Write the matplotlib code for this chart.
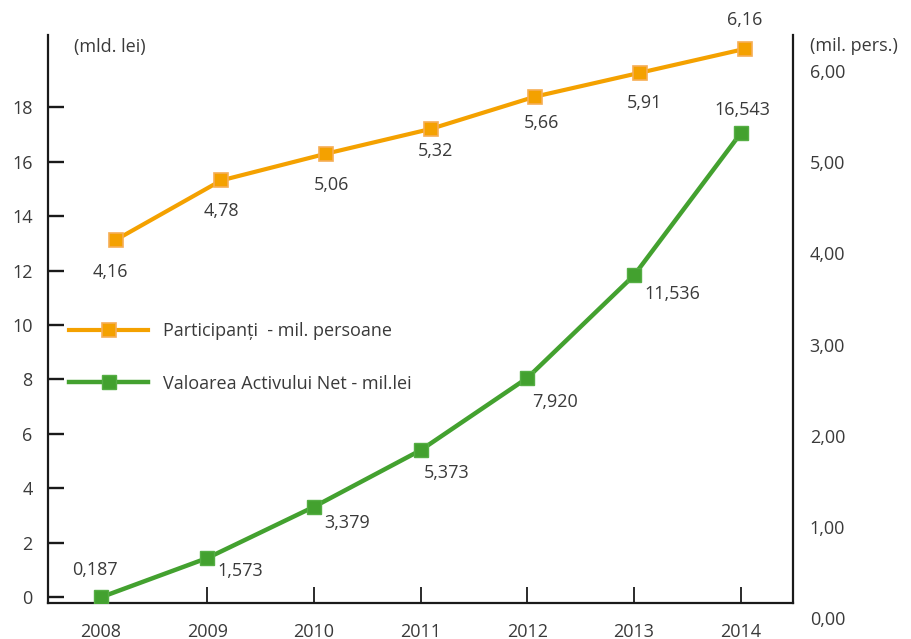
import matplotlib
matplotlib.use("Agg")
import matplotlib.pyplot as plt
from matplotlib.lines import Line2D

plt.rcParams['font.family'] = ['Open Sans', 'DejaVu Sans']

# ---------------- data ----------------
years = ['2008', '2009', '2010', '2011', '2012', '2013', '2014']
van = [0.187, 1.573, 3.379, 5.373, 7.920, 11.536, 16.543]
van_labels = ['0,187', '1,573', '3,379', '5,373', '7,920', '11,536', '16,543']
participants = [4.16, 4.78, 5.06, 5.32, 5.66, 5.91, 6.16]
part_labels = ['4,16', '4,78', '5,06', '5,32', '5,66', '5,91', '6,16']
left_ticks = [0, 2, 4, 6, 8, 10, 12, 14, 16, 18]
right_ticks = [0, 1, 2, 3, 4, 5, 6]
right_tick_labels = ['0,00', '1,00', '2,00', '3,00', '4,00', '5,00', '6,00']
series_names = ['Participanți  - mil. persoane', 'Valoarea Activului Net - mil.lei']

# ---------------- style ----------------
TEXT = '#3a3a3a'
ORANGE = '#F4A100'
ORANGE_EDGE = '#F6AE55'
GREEN = '#43A12F'
GREEN_EDGE = '#55AE44'
FS = 13

# label offsets in pixels (dx right, dy down) relative to each marker
van_off = [(-6, -27), (33, 13), (33, 16), (26, 23), (28, 24), (38, 19), (2, -23)]
part_off = [(-6, 32), (0, 31), (6, 31), (5, 22), (6, 26), (4, 30), (0, -29)]

W, H = 911, 639
fig = plt.figure(figsize=(W / 100, H / 100), dpi=100)


def rect(l, t, r, b):
    return [l / W, 1 - b / H, (r - l) / W, (b - t) / H]


px = 0.72  # points per pixel

# main axes: spines, x ticks, left ticks
ax = fig.add_axes(rect(48, 35, 793, 602.7))
ax.set_xlim(-0.493, 6.489)
ax.set_ylim(-0.206, 20.66)
ax.spines['top'].set_visible(False)
for s in ['left', 'right', 'bottom']:
    ax.spines[s].set_linewidth(1.6)
    ax.spines[s].set_color('#1a1a1a')
ax.yaxis.set_ticks_position('left')
ax.xaxis.set_ticks_position('bottom')
ax.set_yticks(left_ticks, [str(t) for t in left_ticks])
ax.set_xticks(range(len(years)), years)
ax.tick_params(axis='y', direction='in', length=11.5, width=1.7, pad=11,
               labelsize=FS, labelcolor=TEXT, color='#1a1a1a')
ax.tick_params(axis='x', direction='in', length=11.5, width=1.3, pad=14.5,
               labelsize=FS, labelcolor=TEXT, color='#1a1a1a')
ax.xaxis.get_major_ticks()[0].tick1line.set_visible(False)

# right axis labels
axr = fig.add_axes(rect(48, 35, 793, 620))
axr.set_ylim(-0.019, 6.396)
axr.set_frame_on(False)
axr.patch.set_visible(False)
axr.set_xticks([])
axr.yaxis.tick_right()
axr.set_yticks(right_ticks, right_tick_labels)
axr.tick_params(axis='y', length=0, pad=12, labelsize=FS, labelcolor=TEXT)

# orange series
axo = fig.add_axes(rect(48, 35, 793, 602.7))
axo.set_xlim(-0.654, 6.461)
axo.set_ylim(0.349, 6.306)
axo.axis('off')
axo.patch.set_visible(False)
axo.plot(range(len(participants)), participants, color=ORANGE, lw=3.0,
         marker='s', ms=10.5, mfc=ORANGE, mec=ORANGE_EDGE, mew=1.2, zorder=3)
for i, (v, lab) in enumerate(zip(participants, part_labels)):
    dx, dy = part_off[i]
    axo.annotate(lab, (i, v), xytext=(dx * px, -dy * px), textcoords='offset points',
                 ha='center', va='center', fontsize=FS, color=TEXT)

# green series
axg = fig.add_axes(rect(48, 35, 793, 602.7))
axg.set_xlim(-0.493, 6.489)
axg.set_ylim(0, 20)
axg.axis('off')
axg.patch.set_visible(False)
axg.plot(range(len(van)), van, color=GREEN, lw=3.2,
         marker='s', ms=10.5, mfc=GREEN, mec=GREEN_EDGE, mew=1.0, zorder=3)
for i, (v, lab) in enumerate(zip(van, van_labels)):
    dx, dy = van_off[i]
    axg.annotate(lab, (i, v), xytext=(dx * px, -dy * px), textcoords='offset points',
                 ha='center', va='center', fontsize=FS, color=TEXT)

# axis unit titles
fig.text(74 / W, 1 - 46.7 / H, '(mld. lei)', ha='left', va='center', fontsize=FS, color=TEXT)
fig.text(810 / W, 1 - 46 / H, '(mil. pers.)', ha='left', va='center', fontsize=FS, color=TEXT)

# legend
handles = [
    Line2D([], [], color=ORANGE, lw=3.0, marker='s', ms=10.5, mfc=ORANGE, mec=ORANGE_EDGE, mew=1.2),
    Line2D([], [], color=GREEN, lw=3.2, marker='s', ms=10.5, mfc=GREEN, mec=GREEN_EDGE, mew=1.0),
]
fig.legend(handles, series_names, loc='center left', bbox_to_anchor=(69 / W, 1 - 357.5 / H),
           frameon=False, handlelength=4.4, handletextpad=0.83, labelspacing=1.9,
           fontsize=FS, labelcolor=TEXT, borderpad=0, borderaxespad=0, numpoints=1)

fig.savefig('out.png', dpi=100)
